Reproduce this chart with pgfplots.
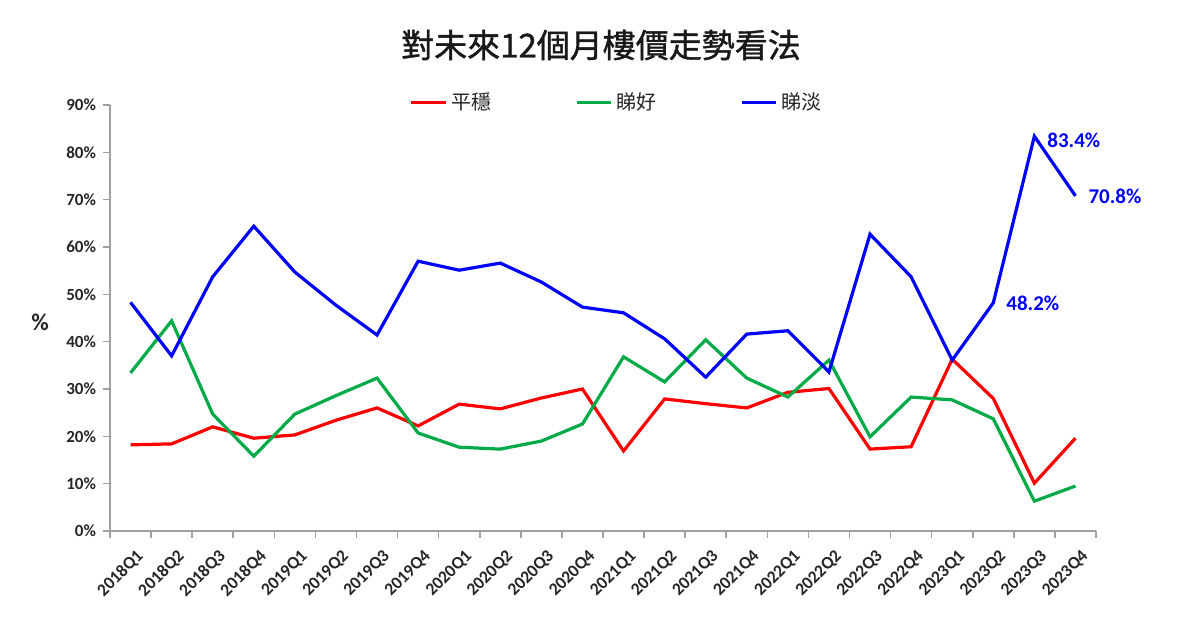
\documentclass[border=0pt]{standalone}
\usepackage{fontspec}
\setmainfont{Carlito}
\newfontfamily\cjk{Noto Sans CJK TC}
\newfontfamily\cjkt[FakeBold=1.2]{Noto Sans CJK TC}
\usepackage{pgfplots}
\pgfplotsset{compat=1.18}
\definecolor{lred}{RGB}{255,0,0}
\definecolor{lgreen}{RGB}{0,170,70}
\definecolor{lblue}{RGB}{0,0,255}
\definecolor{axgray}{RGB}{160,160,160}
\begin{document}
\begin{tikzpicture}
\path[use as bounding box] (-55pt,-47pt) rectangle (545pt,265.5pt);
\begin{axis}[
  at={(0,0)}, anchor=south west,
  scale only axis, width=493pt, height=213pt,
  xmin=-0.5, xmax=23.5, ymin=0, ymax=90,
  clip=false,
  axis x line*=bottom, axis y line*=left,
  axis line style={axgray, line width=0.9pt},
  tick align=outside,
  xtick={0,...,23},
  xticklabels={2018Q1,2018Q2,2018Q3,2018Q4,2019Q1,2019Q2,2019Q3,2019Q4,2020Q1,2020Q2,2020Q3,2020Q4,2021Q1,2021Q2,2021Q3,2021Q4,2022Q1,2022Q2,2022Q3,2022Q4,2023Q1,2023Q2,2023Q3,2023Q4},
  major x tick style={draw=none},
  minor xtick={-0.5,0.5,...,23.5},
  minor x tick style={axgray, line width=0.8pt},
  minor tick length=3.5pt,
  ytick={0,10,...,90},
  y tick style={axgray, line width=0.8pt},
  major tick length=3.5pt,
  yticklabel={\pgfmathprintnumber{\tick}\%},
  /pgf/number format/assume math mode=true,
  ticklabel style={font=\bfseries\fontsize{8.5}{10}\selectfont, text=black!85},
  xticklabel style={font=\bfseries\fontsize{8.8}{10}\selectfont, rotate=45, anchor=east, yshift=-9pt, xshift=1.5pt},
  legend style={at={(0.515,1.005)}, anchor=center, draw=none, fill=none,
    legend columns=3, font=\cjk\fontsize{10}{12}\selectfont, text=black!85,
    /tikz/every even column/.append style={column sep=40pt}},
  legend cell align=left,
]
\addplot[lred, line width=1.6pt] coordinates {
(0,18.2) (1,18.4) (2,22.0) (3,19.6) (4,20.3) (5,23.4) (6,26.0) (7,22.2)
(8,26.8) (9,25.8) (10,28.1) (11,30.0) (12,16.9) (13,27.9) (14,26.9) (15,26.0)
(16,29.3) (17,30.1) (18,17.3) (19,17.8) (20,36.3) (21,28.0) (22,10.1) (23,19.6)};
\addlegendentry{平穩}
\addplot[lgreen, line width=1.6pt] coordinates {
(0,33.4) (1,44.4) (2,24.7) (3,15.8) (4,24.7) (5,28.6) (6,32.3) (7,20.7)
(8,17.7) (9,17.3) (10,19.0) (11,22.6) (12,36.8) (13,31.5) (14,40.4) (15,32.3)
(16,28.3) (17,36.1) (18,19.9) (19,28.3) (20,27.7) (21,23.7) (22,6.3) (23,9.5)};
\addlegendentry{睇好}
\addplot[lblue, line width=1.6pt] coordinates {
(0,48.3) (1,37.0) (2,53.7) (3,64.4) (4,54.7) (5,47.7) (6,41.4) (7,57.0)
(8,55.1) (9,56.6) (10,52.6) (11,47.3) (12,46.1) (13,40.6) (14,32.5) (15,41.6)
(16,42.3) (17,33.6) (18,62.7) (19,53.7) (20,36.1) (21,48.2) (22,83.4) (23,70.8)};
\addlegendentry{睇淡}
\node[anchor=west, text=lblue, font=\bfseries\fontsize{10.5}{12}\selectfont, xshift=3pt] at (axis cs:21,48.2) {48.2\%};
\node[anchor=west, text=lblue, font=\bfseries\fontsize{10.5}{12}\selectfont, xshift=3pt, yshift=-2pt] at (axis cs:22,83.4) {83.4\%};
\node[anchor=west, text=lblue, font=\bfseries\fontsize{10.5}{12}\selectfont, xshift=3pt] at (axis cs:23,70.8) {70.8\%};
\end{axis}
\node[font=\cjkt\fontsize{16.5}{20}\selectfont, text=black!90] at (245.5pt,243pt) {對未來12個月樓價走勢看法};
\node[font=\bfseries\fontsize{12}{14}\selectfont, text=black!85] at (-35pt,104.5pt) {\%};
\end{tikzpicture}
\end{document}
